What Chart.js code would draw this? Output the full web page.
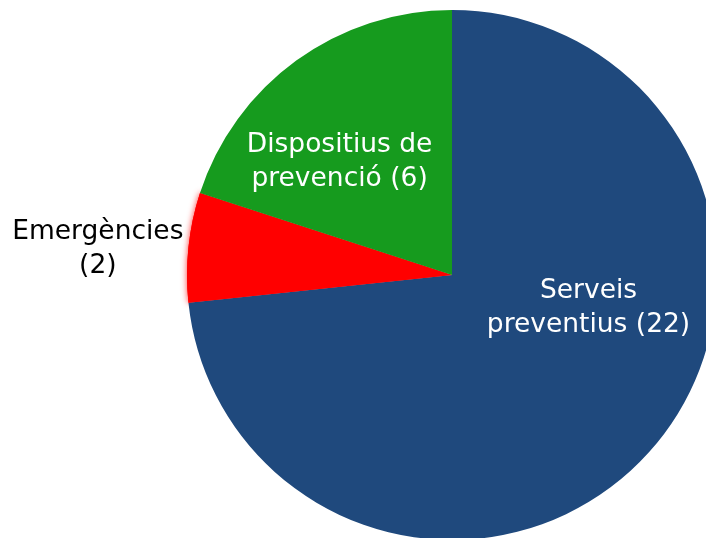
<!DOCTYPE html>
<html>
<head>
<meta charset="utf-8">
<script src="https://cdn.jsdelivr.net/npm/chart.js@4/dist/chart.umd.min.js"></script>
<style>
  html, body { margin: 0; padding: 0; background: #fff; overflow: hidden; width: 706px; height: 538px; }
  #chart { position: absolute; left: 0; top: 0; }
</style>
</head>
<body>
<canvas id="chart" width="904" height="550"></canvas>
<script>
const categories = ['Serveis preventius', 'Emergències', 'Dispositius de prevenció'];
const values = [22, 2, 6];
const colors = ['#1F497D', '#FF0000', '#169B1E'];
const labelLines = [['Serveis', 'preventius (22)'], ['Emergències', '(2)'], ['Dispositius de', 'prevenció (6)']];
const labelColors = ['#ffffff', '#000000', '#ffffff'];
// label anchor: angle clockwise from top (deg), distance as fraction of radius
const labelAngle = [103.6, 274.2, 315];
const labelDist = [0.53, 1.34, 0.6];

const glowPlugin = {
    id: 'glow',
    beforeDatasetsDraw(chart) {
        const arc = chart.getDatasetMeta(0).data[1];
        const ctx = chart.ctx;
        ctx.save();
        ctx.shadowColor = 'rgba(255,0,0,0.8)';
        ctx.shadowBlur = 6;
        arc.draw(ctx);
        ctx.restore();
    }
};

const labelPlugin = {
    id: 'sliceLabels',
    afterDatasetsDraw(chart) {
        const meta = chart.getDatasetMeta(0);
        const ctx = chart.ctx;
        ctx.save();
        ctx.font = '26.5px "DejaVu Sans", Verdana, sans-serif';
        ctx.textAlign = 'center';
        ctx.textBaseline = 'middle';
        meta.data.forEach((arc, i) => {
            const a = labelAngle[i] * Math.PI / 180;
            const r = arc.outerRadius * labelDist[i];
            const x = arc.x + Math.sin(a) * r;
            const y = arc.y - Math.cos(a) * r;
            ctx.fillStyle = labelColors[i];
            const lines = labelLines[i];
            lines.forEach((t, k) => {
                ctx.fillText(t, x, y + (k - (lines.length - 1) / 2) * 34);
            });
        });
        ctx.restore();
    }
};

new Chart(document.getElementById('chart'), {
    type: 'pie',
    data: {
        labels: categories,
        datasets: [{
            data: values,
            backgroundColor: colors,
            borderWidth: 0
        }]
    },
    options: {
        responsive: false,
        animation: false,
        radius: 265,
        layout: { padding: 0 },
        plugins: {
            legend: { display: false },
            tooltip: { enabled: false }
        }
    },
    plugins: [glowPlugin, labelPlugin]
});
</script>
</body>
</html>
